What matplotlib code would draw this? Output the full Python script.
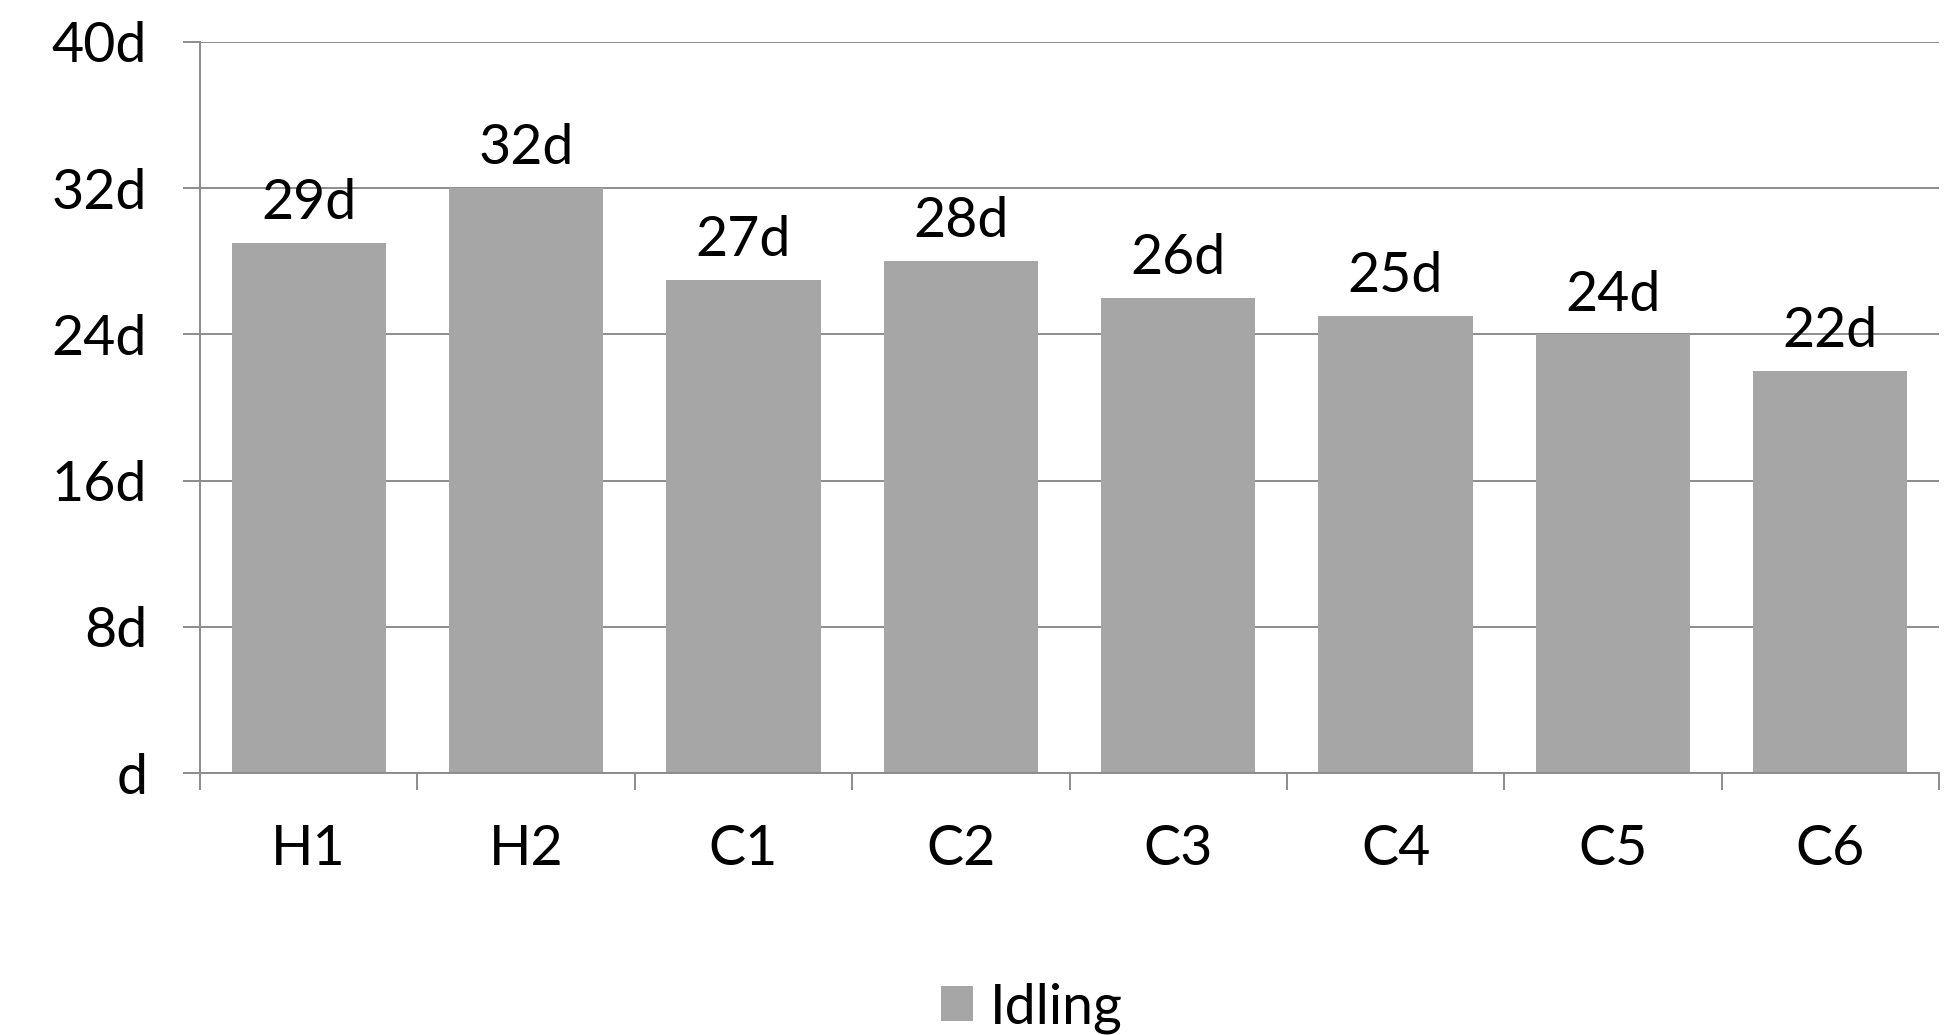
import matplotlib
matplotlib.use("Agg")
import matplotlib.pyplot as plt
from matplotlib.patches import Patch
from matplotlib.ticker import FixedLocator

categories = ["H1", "H2", "C1", "C2", "C3", "C4", "C5", "C6"]
idling_days = [29, 32, 27, 28, 26, 25, 24, 22]
y_ticks = [0, 8, 16, 24, 32, 40]
y_tick_labels = ["d", "8d", "16d", "24d", "32d", "40d"]
series_name = "Idling"

bar_color = "#a6a6a6"
line_color = "#8c8c8c"
font = ["Lato", "DejaVu Sans"]
plt.rcParams["font.family"] = font
fs = 40

W, H = 1946, 1035
fig = plt.figure(figsize=(W / 100, H / 100), dpi=100)
ax = fig.add_axes([200 / W, (H - 773) / H, 1739 / W, 731 / H])

x = list(range(len(categories)))
ax.bar(x, idling_days, width=0.71, color=bar_color, zorder=3)

for xi, v in zip(x, idling_days):
    ax.annotate(f"{v}d", (xi, v), xytext=(0, 10), textcoords="offset points",
                ha="center", va="bottom", fontsize=fs, color="black", zorder=4)

ax.set_xlim(-0.5, len(categories) - 0.5)
ax.set_ylim(0, 40)

ax.set_yticks(y_ticks)
ax.set_yticklabels(y_tick_labels)
ax.yaxis.grid(True, color=line_color, linewidth=1.4, zorder=0)
ax.tick_params(axis="y", length=12, width=1.4, color=line_color, pad=26,
               labelsize=fs, labelcolor="black")

ax.xaxis.set_major_locator(FixedLocator([i - 0.5 for i in range(len(categories) + 1)]))
ax.xaxis.set_minor_locator(FixedLocator(x))
ax.set_xticklabels([], minor=False)
ax.set_xticklabels(categories, minor=True)
ax.tick_params(axis="x", which="major", length=12, width=1.4, color=line_color)
ax.tick_params(axis="x", which="minor", length=0, pad=37, labelsize=fs,
               labelcolor="black")

for side in ("top", "right"):
    ax.spines[side].set_visible(False)
for side in ("left", "bottom"):
    ax.spines[side].set_color(line_color)
    ax.spines[side].set_linewidth(1.4)
    ax.spines[side].set_zorder(5)

handles = [Patch(facecolor=bar_color, edgecolor="none", label=series_name)]
fig.legend(handles=handles, loc="center", bbox_to_anchor=(1032 / W, 1 - 1008 / H),
           frameon=False, fontsize=fs, handlelength=0.58, handleheight=0.58,
           handletextpad=0.3, borderpad=0)

fig.savefig("out.png", dpi=100)
